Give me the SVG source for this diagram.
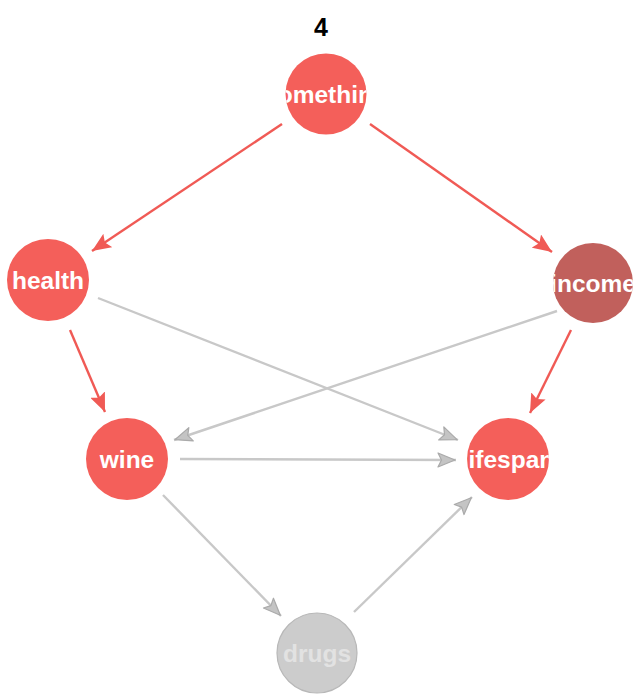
<svg xmlns="http://www.w3.org/2000/svg" width="636" height="694" viewBox="0 0 636 694">
  <style>
    .title { font-family: "Liberation Sans", Arial, sans-serif; font-weight: bold; font-size: 25px; fill: #000; text-anchor: middle; }
    .lbl { font-family: "Liberation Sans", Arial, sans-serif; font-weight: bold; font-size: 24.5px; text-anchor: middle; }
    .node { fill: #f45f5a; }
    .node-dark { fill: #c1605c; }
    .node-off { fill: #cccccc; stroke: #b8b8b8; stroke-width: 1.2; }
    .lbl-on { fill: #ffffff; }
    .lbl-off { fill: #e2e2e2; }
    .e-red { stroke: #f05a55; stroke-width: 2.4; fill: none; }
    .e-gray { stroke: #c8c8c8; stroke-width: 2.4; fill: none; }
  </style>
  <defs>
    <marker id="ah-red" markerUnits="userSpaceOnUse" markerWidth="20" markerHeight="16" viewBox="0 0 20 16" refX="19" refY="8" orient="auto">
      <path d="M0,0 L19,8 L0,16 L3.5,8 Z" fill="#f05a55"/>
    </marker>
    <marker id="ah-gray" markerUnits="userSpaceOnUse" markerWidth="20" markerHeight="16" viewBox="0 0 20 16" refX="19" refY="8" orient="auto">
      <path d="M1,1 L18,8 L1,15 L4.5,8 Z" fill="#c4c4c4" stroke="#aaaaaa" stroke-width="1.2" stroke-linejoin="round"/>
    </marker>
    <clipPath id="c-something"><circle cx="326" cy="94" r="40.5"/></clipPath>
    <clipPath id="c-health"><circle cx="48" cy="280" r="41"/></clipPath>
    <clipPath id="c-income"><circle cx="593" cy="283" r="40"/></clipPath>
    <clipPath id="c-wine"><circle cx="127" cy="459" r="41"/></clipPath>
    <clipPath id="c-lifespan"><circle cx="508" cy="459" r="41"/></clipPath>
    <clipPath id="c-drugs"><circle cx="317" cy="653" r="40"/></clipPath>
  </defs>

  <text class="title" x="321" y="36">4</text>

  <g id="edges">
    <line class="e-red" x1="282" y1="124" x2="92" y2="251" marker-end="url(#ah-red)"/>
    <line class="e-red" x1="370" y1="124" x2="552" y2="252" marker-end="url(#ah-red)"/>
    <line class="e-red" x1="70" y1="330" x2="105" y2="412" marker-end="url(#ah-red)"/>
    <line class="e-red" x1="571" y1="330" x2="530" y2="413" marker-end="url(#ah-red)"/>
    <line class="e-gray" x1="98" y1="298" x2="458" y2="440" marker-end="url(#ah-gray)"/>
    <line class="e-gray" x1="557" y1="311" x2="174" y2="440" marker-end="url(#ah-gray)"/>
    <line class="e-gray" x1="180" y1="459" x2="456" y2="460" marker-end="url(#ah-gray)"/>
    <line class="e-gray" x1="163" y1="495" x2="281" y2="616" marker-end="url(#ah-gray)"/>
    <line class="e-gray" x1="354" y1="612" x2="472" y2="497" marker-end="url(#ah-gray)"/>
  </g>

  <g id="something">
    <circle class="node" cx="326" cy="94" r="40.5"/>
    <text class="lbl lbl-on" x="326" y="103" clip-path="url(#c-something)">something</text>
  </g>
  <g id="health">
    <circle class="node" cx="48" cy="280" r="41"/>
    <text class="lbl lbl-on" x="48" y="289" clip-path="url(#c-health)">health</text>
  </g>
  <g id="income">
    <circle class="node-dark" cx="593" cy="283" r="40"/>
    <text class="lbl lbl-on" x="593" y="292" clip-path="url(#c-income)">income</text>
  </g>
  <g id="wine">
    <circle class="node" cx="127" cy="459" r="41"/>
    <text class="lbl lbl-on" x="127" y="468" clip-path="url(#c-wine)">wine</text>
  </g>
  <g id="lifespan">
    <circle class="node" cx="508" cy="459" r="41"/>
    <text class="lbl lbl-on" x="508" y="468" clip-path="url(#c-lifespan)">lifespan</text>
  </g>
  <g id="drugs">
    <circle class="node-off" cx="317" cy="653" r="40"/>
    <text class="lbl lbl-off" x="317" y="662" clip-path="url(#c-drugs)">drugs</text>
  </g>
</svg>
